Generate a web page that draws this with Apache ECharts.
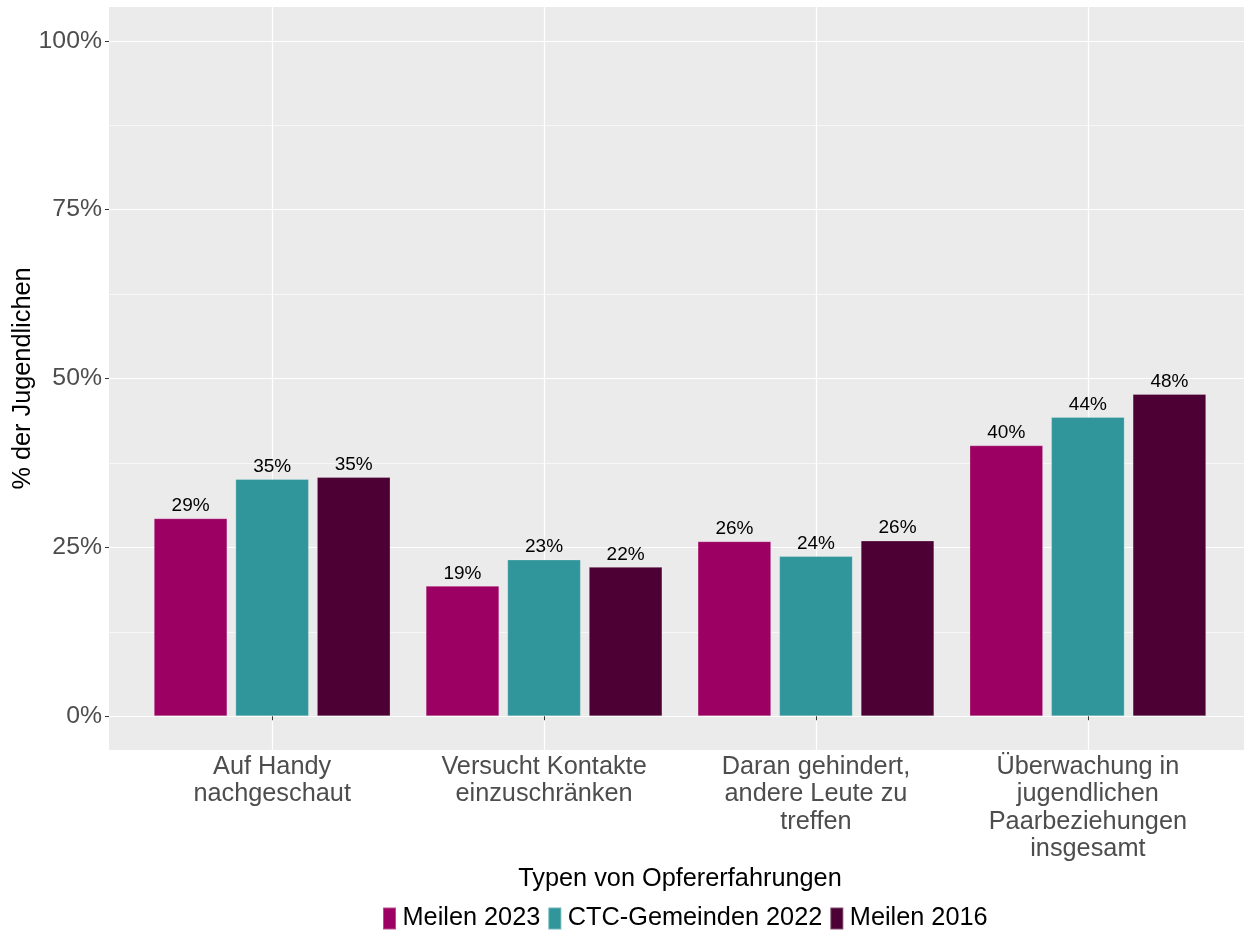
<!DOCTYPE html>
<html>
<head>
<meta charset="utf-8">
<script src="https://cdn.jsdelivr.net/npm/echarts@6/dist/echarts.min.js"></script>
<style>
html,body{margin:0;padding:0;background:#fff;}
#chart{width:1244px;height:934px;}
</style>
</head>
<body>
<div id="chart"></div>
<script>
const categories = [
  'Auf Handy\nnachgeschaut',
  'Versucht Kontakte\neinzuschränken',
  'Daran gehindert,\nandere Leute zu\ntreffen',
  'Überwachung in\njugendlichen\nPaarbeziehungen\ninsgesamt'
];
const seriesNames = ['Meilen 2023', 'CTC-Gemeinden 2022', 'Meilen 2016'];
const meilen2023 = [29.3, 19.3, 25.9, 40.1];
const ctc2022 = [35.1, 23.2, 23.7, 44.3];
const meilen2016 = [35.4, 22.1, 26.0, 47.7];
const yTicks = [0, 25, 50, 75, 100];
const yMinorTicks = [12.5, 37.5, 62.5, 87.5];
const colors = ['#9B0062', '#31969B', '#4C0033'];

const FONT = '"Liberation Sans", Arial, sans-serif';
const catPositions = categories.map((c, i) => i + 1);
const allValues = [meilen2023, ctc2022, meilen2016];

const chart = echarts.init(document.getElementById('chart'), null, {renderer: 'canvas'});

const series = allValues.map((vals, s) => ({
  name: seriesNames[s],
  type: 'bar',
  xAxisIndex: 0,
  yAxisIndex: 0,
  barWidth: '27%',
  barGap: '11.1%',
  data: vals.map((v, i) => [catPositions[i], v]),
  itemStyle: {color: colors[s], borderColor: 'rgba(255,255,255,0.3)', borderWidth: 0.8},
  label: {
    show: true,
    position: 'top',
    distance: 3,
    color: '#000',
    fontFamily: FONT,
    fontSize: 19,
    formatter: p => Math.round(p.value[1]) + '%'
  },
  emphasis: {disabled: true}
}));

const option = {
  animation: false,
  textStyle: {fontFamily: FONT},
  grid: {
    left: 109, right: -7, top: 7, bottom: 184,
    containLabel: false,
    outerBoundsMode: 'none',
    show: true, backgroundColor: '#EBEBEB', borderWidth: 0
  },
  legend: {
    data: seriesNames,
    left: 382, top: 906,
    padding: 0,
    orient: 'horizontal',
    icon: 'rect',
    itemWidth: 13, itemHeight: 22,
    itemGap: 7,
    textStyle: {fontFamily: FONT, fontSize: 25.3, color: '#000', padding: [0, 0, 0, 1.5]},
    selectedMode: false
  },
  xAxis: [{
    type: 'value',
    min: 0.4, max: 4.6,
    name: 'Typen von Opfererfahrungen',
    nameLocation: 'middle',
    nameGap: 117,
    nameMoveOverlap: false,
    nameTextStyle: {fontFamily: FONT, fontSize: 25.3, color: '#000'},
    axisLine: {show: false},
    axisTick: {show: true, length: 4, lineStyle: {color: '#333', width: 1}, customValues: catPositions},
    axisLabel: {
      customValues: catPositions,
      margin: 3,
      fontFamily: FONT, fontSize: 25.3, color: '#4D4D4D', lineHeight: 27.5,
      align: 'center',
      formatter: v => categories[Math.round(v) - 1] || ''
    },
    splitLine: {show: true, lineStyle: {color: '#FFFFFF', width: 1.2}}
  }],
  yAxis: [{
    type: 'value',
    min: -5, max: 105,
    name: '% der Jugendlichen',
    nameLocation: 'middle',
    nameGap: 73,
    nameMoveOverlap: false,
    nameRotate: 90,
    nameTextStyle: {fontFamily: FONT, fontSize: 25.3, color: '#000'},
    axisLine: {show: false},
    axisTick: {show: true, length: 4, lineStyle: {color: '#333', width: 1}, customValues: yTicks},
    axisLabel: {
      customValues: yTicks,
      margin: 7,
      fontFamily: FONT, fontSize: 24.8, color: '#4D4D4D',
      formatter: v => v + '%'
    },
    splitLine: {show: true, lineStyle: {color: '#FFFFFF', width: 1.2}}
  }, {
    type: 'value',
    min: -5, max: 105,
    position: 'left',
    axisLine: {show: false},
    axisTick: {show: true, length: 0, lineStyle: {color: 'rgba(0,0,0,0)'}, customValues: yMinorTicks},
    axisLabel: {show: false, customValues: yMinorTicks},
    splitLine: {show: true, lineStyle: {color: '#FFFFFF', width: 0.6}}
  }],
  series: series
};

chart.setOption(option);
</script>
</body>
</html>
